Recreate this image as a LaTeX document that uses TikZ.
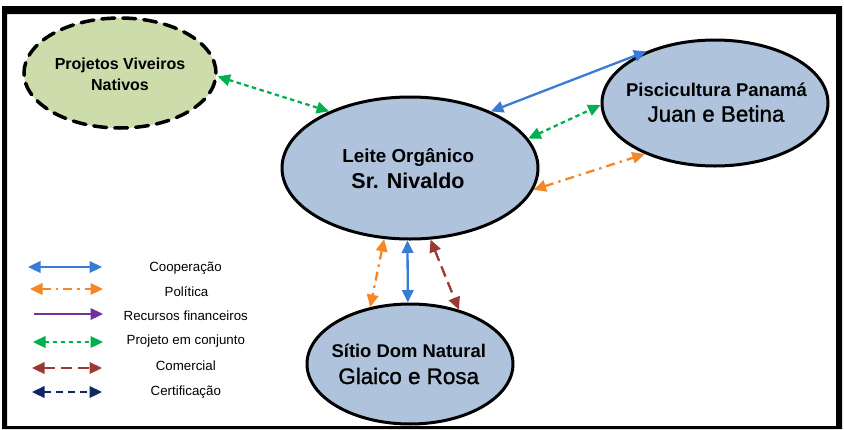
\documentclass[tikz,border=0pt]{standalone}
\usepackage{fontspec}
\setmainfont{Liberation Sans}
\usetikzlibrary{shapes.geometric,arrows.meta}
\definecolor{nodeblue}{RGB}{175,195,220}
\definecolor{nodegreen}{RGB}{204,220,170}
\definecolor{coopblue}{RGB}{58,123,213}
\definecolor{polorange}{RGB}{245,135,40}
\definecolor{recpurple}{RGB}{112,48,160}
\definecolor{projgreen}{RGB}{0,176,80}
\definecolor{combrown}{RGB}{155,57,52}
\definecolor{certnavy}{RGB}{15,40,100}
\tikzset{
  actor/.style={ellipse, draw=black, line width=3pt, fill=nodeblue, inner sep=0pt},
  viveiro/.style={ellipse, draw=black, line width=3.5pt, fill=nodegreen, inner sep=0pt,
    dash pattern=on 13pt off 8pt, line cap=round},
  lab/.style={anchor=base, inner sep=0pt},
  tipsboth/.style={{Triangle[length=12.5pt,width=11.5pt]}-{Triangle[length=12.5pt,width=11.5pt]}},
  tipend/.style={-{Triangle[length=12.5pt,width=11.5pt]}},
  coop/.style={tipsboth, draw=coopblue, line width=2.3pt},
  pol/.style={tipsboth, draw=polorange, line width=2.3pt, dash pattern=on 9pt off 5pt on 2.5pt off 5pt},
  rec/.style={tipend, draw=recpurple, line width=2.3pt},
  proj/.style={tipsboth, draw=projgreen, line width=2.3pt, dash pattern=on 4.5pt off 3.5pt},
  com/.style={tipsboth, draw=combrown, line width=2.3pt, dash pattern=on 11pt off 6pt},
  cert/.style={tipsboth, draw=certnavy, line width=2.3pt, dash pattern=on 7pt off 5pt},
  legtext/.style={anchor=base, inner sep=0pt, font=\fontsize{13.3}{15}\selectfont},
}
\begin{document}
\begin{tikzpicture}[x=1pt,y=-1pt]
\useasboundingbox (0,0) rectangle (844,429);
% frame
\fill[black, even odd rule] (2,6) rectangle (842,429) (7,14) rectangle (836,426);

% ellipses
\node[viveiro, minimum width=192pt, minimum height=110pt] (viv) at (120,73) {};
\node[actor, minimum width=256pt, minimum height=142pt] (leite) at (410,168) {};
\node[actor, minimum width=226pt, minimum height=126pt] (pisc) at (715,103) {};
\node[actor, minimum width=206pt, minimum height=120pt] (sitio) at (410,364) {};

% texts
\node[lab, font=\bfseries\fontsize{16}{18}\selectfont] (vivA) at (120,69.3) {Projetos Viveiros};
\node[lab, font=\bfseries\fontsize{16}{18}\selectfont] (vivB) at (120,90.7) {Nativos};
\node[lab, font=\bfseries\fontsize{18.8}{22}\selectfont] (leiteA) at (408.3,162.7) {Leite Orgânico};
\node[lab, font=\bfseries\fontsize{21.5}{25}\selectfont] (leiteB) at (408,188.3) {Sr. Nivaldo};
\node[lab, font=\bfseries\fontsize{18.5}{22}\selectfont] (piscA) at (716.5,96.7) {Piscicultura Panamá};
\node[lab, font=\fontsize{22.4}{26}\selectfont\addfontfeature{FakeBold=1.2}] (piscB) at (716,121.7) {Juan e Betina};
\node[lab, font=\bfseries\fontsize{18.4}{22}\selectfont] (sitioA) at (408.8,357.3) {Sítio Dom Natural};
\node[lab, font=\fontsize{22.4}{26}\selectfont\addfontfeature{FakeBold=1.2}] (sitioB) at (408.7,384) {Glaico e Rosa};

% connectors
\draw[proj] (viv.-2) -- (leite.145);
\draw[coop] (leite.35) -- (pisc.143.7);
\draw[proj] (leite.14.4) -- (pisc.181);
\draw[pol] (leite.-10.8) -- (pisc.216);
\draw[pol] (leite.250) -- (sitio.125);
\draw[coop] (leite.268) -- (sitio.92);
\draw[com] (leite.286.6) -- (sitio.48.4);

% legend
\coordinate (l1a) at (28,267);  \coordinate (l1b) at (102,267);
\coordinate (l2a) at (30,289);  \coordinate (l2b) at (103,289);
\coordinate (l3a) at (34,314);  \coordinate (l3b) at (103,314);
\coordinate (l4a) at (33,342);  \coordinate (l4b) at (103,342);
\coordinate (l5a) at (32,368);  \coordinate (l5b) at (102,368);
\coordinate (l6a) at (32,392);  \coordinate (l6b) at (102,392);
\draw[coop] (l1a) -- (l1b);
\draw[pol] (l2a) -- (l2b);
\draw[rec] (l3a) -- (l3b);
\draw[proj] (l4a) -- (l4b);
\draw[com] (l5a) -- (l5b);
\draw[cert] (l6a) -- (l6b);
\node[legtext] (t1) at (185.5,271.7) {Cooperação};
\node[legtext] (t2) at (186.5,296) {Política};
\node[legtext] (t3) at (185.8,320) {Recursos financeiros};
\node[legtext] (t4) at (185.8,344.5) {Projeto em conjunto};
\node[legtext] (t5) at (185.8,370.5) {Comercial};
\node[legtext] (t6) at (185.8,395) {Certificação};
\end{tikzpicture}
\end{document}
